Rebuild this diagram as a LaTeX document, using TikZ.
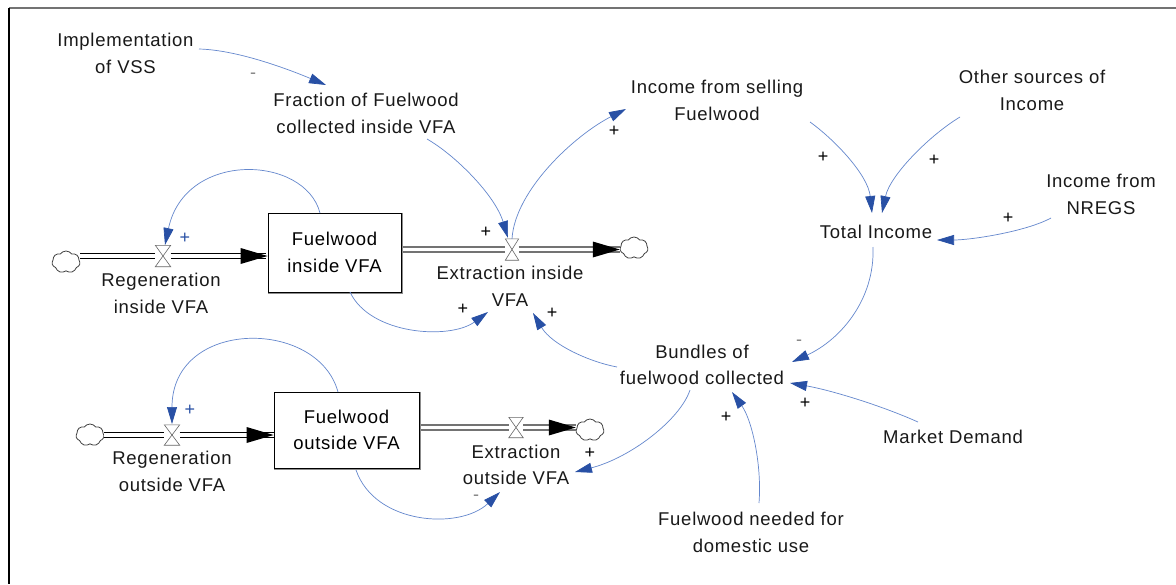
\documentclass[tikz,border=0pt]{standalone}
\usepackage{fontspec}
\setmainfont[LetterSpace=4]{Liberation Sans}
\usetikzlibrary{arrows.meta,shapes.symbols}
\definecolor{linkblue}{RGB}{100,135,205}
\definecolor{tipblue}{RGB}{40,80,165}
\newcommand\dgfont{\fontsize{18.5}{26.5}\selectfont}
\newcommand\sgfont{\fontsize{18}{18}\selectfont}
\newcommand\drawvalve[1]{\draw[vlv] (#1.north west) -- (#1.north east) -- (#1.south west) -- (#1.south east) -- cycle;}
\newcommand\flowtip[1]{\fill[black] (#1) -- ++(-27,-8) -- ++(0,16) -- cycle;}
\begin{document}
\begin{tikzpicture}[x=1pt,y=-1pt,
  txt/.style={align=center, inner sep=0pt, font=\dgfont, text=black!90},
  stock/.style={draw=black, line width=0.8pt, fill=white, align=center, font=\dgfont, inner sep=0pt},
  valvebox/.style={minimum width=15pt, minimum height=21pt, inner sep=0pt},
  vlv/.style={draw=black!60, line width=0.6pt},
  cloudn/.style={cloud, cloud puffs=7, cloud puff arc=110, aspect=1.3, draw=black!75, line width=0.8pt, minimum width=28pt, minimum height=22pt, inner sep=0pt},
  pipeB/.style={draw=black, line width=1.3pt, double=white, double distance=3.6pt},
  pipeG/.style={draw=black!55, line width=1.3pt, double=white, double distance=3.6pt},
  link/.style={draw=linkblue, line width=0.7pt, -{Triangle[length=17pt,width=10pt,color=tipblue]}},
  sgn/.style={font=\sgfont, inner sep=0pt},
]
\useasboundingbox (0,0) rectangle (1176,584);
\fill[white] (0,0) rectangle (1176,584);
\draw[black!55, line width=1.5pt] (9,8) -- (1176,8);
\draw[black, line width=1.5pt] (9,8) -- (9,584);

% text variables
\node[txt] (impl) at (125.5,53.5) {Implementation\\of VSS};
\node[txt] (frac) at (366,113.5) {Fraction of Fuelwood\\collected inside VFA};
\node[txt] (incsell) at (717,100.5) {Income from selling\\Fuelwood};
\node[txt] (other) at (1032,90.5) {Other sources of\\Income};
\node[txt] (nregs) at (1101,194.5) {Income from\\NREGS};
\node[txt] (total) at (876,232) {Total Income};
\node[txt] (bundles) at (702,365) {Bundles of\\fuelwood collected};
\node[txt] (market) at (953,437) {Market Demand};
\node[txt] (needed) at (751,532.5) {Fuelwood needed for\\domestic use};
\node[txt] (extinl) at (510,286.5) {Extraction inside\\VFA};
\node[txt] (extoutl) at (516,465) {Extraction\\outside VFA};
\node[txt] (reginl) at (161,293.5) {Regeneration\\inside VFA};
\node[txt] (regoutl) at (172,471.5) {Regeneration\\outside VFA};

% valves, clouds
\node[valvebox] (vr1) at (163,256) {};
\node[valvebox, minimum width=13pt] (ve1) at (512,249.5) {};
\node[valvebox, minimum height=20pt] (vr2) at (172,435) {};
\node[valvebox, minimum width=14pt, minimum height=20pt] (ve2) at (516,427.5) {};
\node[cloudn] (cr1) at (66,262) {};
\node[cloudn] (ce1) at (634,248) {};
\node[cloudn] (cr2) at (90,435) {};
\node[cloudn] (ce2) at (590,430) {};

% pipes
\draw[pipeB] (cr1.east |- vr1) -- (vr1) -- (vr1 -| 266,0);
\draw[pipeG] (403,0 |- ve1) -- (ve1) -- (ce1.west |- ve1);
\draw[pipeB] (cr2.east |- vr2) -- (vr2) -- (vr2 -| 274,0);
\draw[pipeG] (420,0 |- ve2) -- (ve2) -- (ce2.west |- ve2);

% stocks
\node[stock, minimum width=133pt, minimum height=79pt] (box1) at (334.5,252.5) {Fuelwood\\inside VFA};
\node[stock, minimum width=145pt, minimum height=76pt] (box2) at (346.5,430) {Fuelwood\\outside VFA};
\draw[black!45, line width=1.2pt] ([xshift=1.3pt]box1.north east) |- ([yshift=-1.3pt]box1.south west);
\draw[black!45, line width=1.2pt] ([xshift=1.3pt]box2.north east) |- ([yshift=-1.3pt]box2.south west);

\drawvalve{vr1}
\drawvalve{ve1}
\drawvalve{vr2}
\drawvalve{ve2}
\flowtip{vr1 -| box1.west}
\flowtip{ve1 -| ce1.west}
\flowtip{vr2 -| box2.west}
\flowtip{ve2 -| ce2.west}

% links
\draw[link] ([shift={(73.5,-4.5)}]impl.center) .. controls (240,50) and (295,72) .. ([shift={(-40,-28.5)}]frac.center);
\draw[link] ([shift={(61,25.5)}]frac.center) .. controls (455,155) and (495,195) .. ([shift={(-4,-11.5)}]ve1.center);
\draw[link] (ve1.north) .. controls (515,190) and (575,135) .. ([shift={(-91,8.5)}]incsell.center);
\draw[link] ([shift={(-14.5,-39.5)}]box1.center) .. controls (305,155) and (185,150) .. ([shift={(2,-11)}]vr1.center);
\draw[link] ([shift={(15.5,39.5)}]box1.center) .. controls (370,335) and (450,340) .. ([shift={(-22,25.5)}]extinl.center);
\draw[link] ([shift={(-85,2)}]bundles.center) .. controls (590,362) and (552,345) .. ([shift={(23,26.5)}]extinl.center);
\draw[link] ([shift={(93,21.5)}]incsell.center) .. controls (835,140) and (868,175) .. ([shift={(-4,-19)}]total.center);
\draw[link] ([shift={(-72,26.5)}]other.center) .. controls (930,135) and (890,175) .. ([shift={(6,-19)}]total.center);
\draw[link] ([shift={(-50,23.5)}]nregs.center) .. controls (1025,232) and (970,240) .. ([shift={(61,8)}]total.center);
\draw[link] ([shift={(-3,15)}]total.center) .. controls (875,300) and (840,340) .. ([shift={(90,-3)}]bundles.center);
\draw[link] ([shift={(-35,-15)}]market.center) .. controls (880,405) and (830,390) .. ([shift={(88,18)}]bundles.center);
\draw[link] ([shift={(8,-29.5)}]needed.center) .. controls (762,465) and (752,420) .. ([shift={(30,27)}]bundles.center);
\draw[link] ([shift={(-12,25)}]bundles.center) .. controls (680,420) and (630,458) .. ([shift={(59,7)}]extoutl.center);
\draw[link] ([shift={(-8.5,-38)}]box2.center) .. controls (318,318) and (172,318) .. ([shift={(0,-11)}]vr2.center);
\draw[link] ([shift={(9.5,40)}]box2.center) .. controls (375,525) and (460,530) .. ([shift={(-16,27)}]extoutl.center);

% polarity signs
\node[sgn, text=black!50] (s1) at (253,76) {-};
\node[sgn] (s2) at (486,232) {+};
\node[sgn] (s3) at (614,131) {+};
\node[sgn, text=tipblue] (s4) at (185,238) {+};
\node[sgn] (s5) at (463,309) {+};
\node[sgn] (s6) at (552,313) {+};
\node[sgn] (s7) at (823,157) {+};
\node[sgn] (s8) at (934,160) {+};
\node[sgn] (s9) at (1008,218) {+};
\node[sgn, text=black!50] (s10) at (799,343) {-};
\node[sgn] (s11) at (805,403) {+};
\node[sgn] (s12) at (726,417) {+};
\node[sgn] (s13) at (590,453) {+};
\node[sgn, text=tipblue] (s14) at (190,410) {+};
\node[sgn, text=black!50] (s15) at (476,498) {-};
\end{tikzpicture}
\end{document}
